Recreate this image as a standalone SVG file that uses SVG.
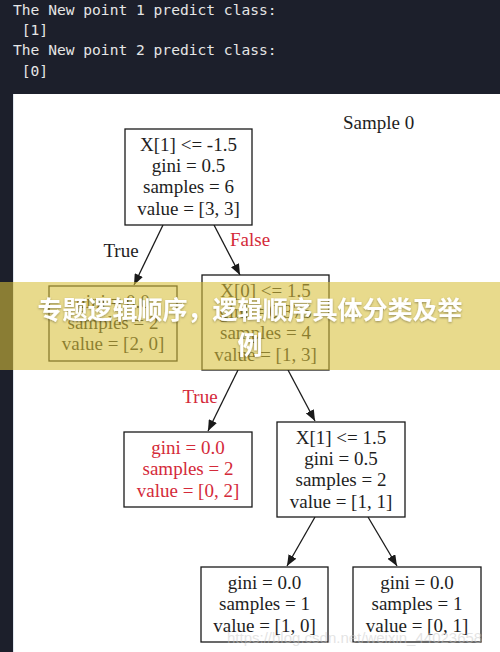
<svg xmlns="http://www.w3.org/2000/svg" width="500" height="652" viewBox="0 0 500 652">
  <defs>
    <style>
      .term { font-family: "DejaVu Sans Mono", "Liberation Mono", monospace; font-size: 14.6px; fill: #e6e6e6; }
      .box { fill: #ffffff; stroke: #1a1a1a; stroke-width: 1.3; }
      .t { font-family: "Liberation Serif", "Times New Roman", serif; font-size: 19px; fill: #1e1e1e; text-anchor: middle; }
      .red { fill: #d42a3a; }
      .edge { stroke: #1a1a1a; stroke-width: 1.3; fill: none; marker-end: url(#arrow); }
      .banner-text { font-family: "Noto Sans CJK SC", "Noto Sans", sans-serif; font-size: 25px; font-weight: bold; fill: #ffffff; text-anchor: middle; }
    </style>
    <marker id="arrow" markerUnits="userSpaceOnUse" markerWidth="11" markerHeight="9" refX="11" refY="4.5" orient="auto">
      <path d="M0,0 L11,4.5 L0,9 z" fill="#1a1a1a"/>
    </marker>
    <filter id="shadow" x="-5%" y="-20%" width="110%" height="140%">
      <feDropShadow dx="0" dy="1" stdDeviation="1.2" flood-color="#000000" flood-opacity="0.35"/>
    </filter>
  </defs>

  <!-- terminal background -->
  <rect x="0" y="0" width="500" height="652" fill="#1c1f2b"/>
  <g id="terminal">
    <text class="term" x="13" y="15">The New point 1 predict class:</text>
    <text class="term" x="13" y="35" xml:space="preserve"> [1]</text>
    <text class="term" x="13" y="55">The New point 2 predict class:</text>
    <text class="term" x="13" y="76" xml:space="preserve"> [0]</text>
  </g>

  <!-- white panel -->
  <rect x="13" y="94" width="487" height="558" fill="#ffffff"/>
  <line x1="13.5" y1="94" x2="13.5" y2="652" stroke="#dfe6ee" stroke-width="1"/>

  <text id="title" class="t" x="343" y="129" style="text-anchor:start">Sample 0</text>

  <g id="connectors">
    <line class="edge" x1="163" y1="225" x2="134" y2="285"/>
    <line class="edge" x1="214" y1="225" x2="240" y2="275"/>
    <line class="edge" x1="238" y1="370" x2="208" y2="431"/>
    <line class="edge" x1="288" y1="370" x2="315" y2="421"/>
    <line class="edge" x1="315" y1="517" x2="287" y2="566"/>
    <line class="edge" x1="368" y1="517" x2="397" y2="566"/>
    <text class="t" x="121" y="257">True</text>
    <text class="t red" x="230" y="246" style="text-anchor:start">False</text>
    <text class="t red" x="200" y="403">True</text>
  </g>

  <g id="node-root">
    <rect class="box" x="125" y="129" width="127" height="96"/>
    <text class="t" x="188.5" y="151">X[1] &lt;= -1.5</text>
    <text class="t" x="188.5" y="172">gini = 0.5</text>
    <text class="t" x="188.5" y="193">samples = 6</text>
    <text class="t" x="188.5" y="215">value = [3, 3]</text>
  </g>

  <g id="node-leaf-left">
    <rect class="box" x="49" y="286" width="128" height="75"/>
    <text class="t" x="113" y="308">gini = 0.0</text>
    <text class="t" x="113" y="329">samples = 2</text>
    <text class="t" x="113" y="350">value = [2, 0]</text>
  </g>

  <g id="node-x0">
    <rect class="box" x="202" y="275" width="127" height="95"/>
    <text class="t" x="265.5" y="297">X[0] &lt;= 1.5</text>
    <text class="t" x="265.5" y="318">gini = 0.375</text>
    <text class="t" x="265.5" y="339">samples = 4</text>
    <text class="t" x="265.5" y="361">value = [1, 3]</text>
  </g>

  <g id="node-leaf-red">
    <rect class="box" x="124" y="432" width="128" height="75"/>
    <text class="t red" x="188" y="454">gini = 0.0</text>
    <text class="t red" x="188" y="475">samples = 2</text>
    <text class="t red" x="188" y="497">value = [0, 2]</text>
  </g>

  <g id="node-x1">
    <rect class="box" x="277" y="422" width="128" height="95"/>
    <text class="t" x="341" y="444">X[1] &lt;= 1.5</text>
    <text class="t" x="341" y="465">gini = 0.5</text>
    <text class="t" x="341" y="486">samples = 2</text>
    <text class="t" x="341" y="508">value = [1, 1]</text>
  </g>

  <g id="node-leaf-bl">
    <rect class="box" x="201" y="567" width="127" height="75"/>
    <text class="t" x="264.5" y="589">gini = 0.0</text>
    <text class="t" x="264.5" y="610">samples = 1</text>
    <text class="t" x="264.5" y="632">value = [1, 0]</text>
  </g>

  <g id="node-leaf-br">
    <rect class="box" x="353" y="567" width="128" height="75"/>
    <text class="t" x="417" y="589">gini = 0.0</text>
    <text class="t" x="417" y="610">samples = 1</text>
    <text class="t" x="417" y="632">value = [0, 1]</text>
  </g>

  <!-- watermark -->
  <text x="227" y="643" font-family="Liberation Sans, Arial, sans-serif" font-size="15" fill="#c8c8c8" fill-opacity="0.5">https://blog.csdn.net/weixin_44023658</text>

  <!-- banner overlay -->
  <g id="banner">
    <rect x="0" y="282" width="500" height="88" fill="#d8c03c" fill-opacity="0.59"/>
    <g filter="url(#shadow)">
      <text class="banner-text" x="250" y="319">专题逻辑顺序，逻辑顺序具体分类及举</text>
      <text class="banner-text" x="250" y="354">例</text>
    </g>
  </g>
</svg>
